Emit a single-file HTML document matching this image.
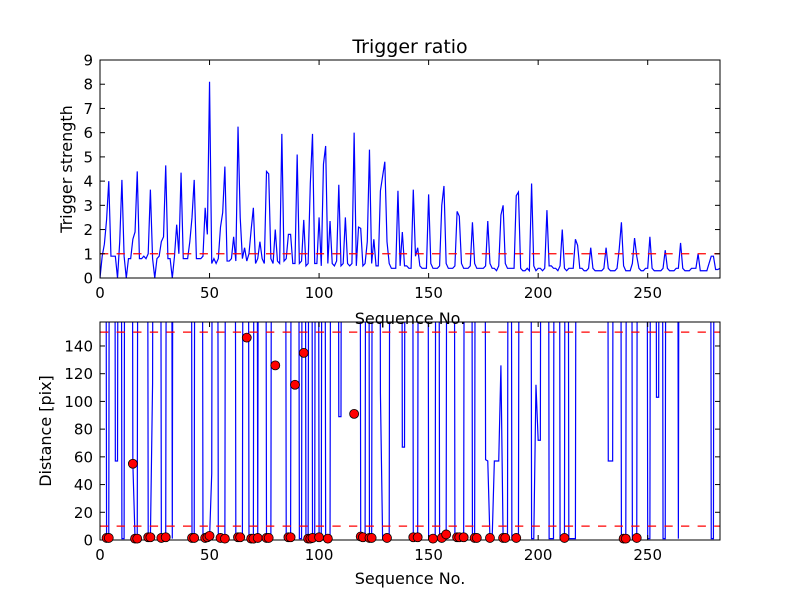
<!DOCTYPE html>
<html><head><meta charset="utf-8"><style>
html,body{margin:0;padding:0;background:#fff;}
svg{display:block;font-family:"DejaVu Sans","Liberation Sans",sans-serif;}
</style></head><body>
<svg id="chart" width="800" height="600" viewBox="0 0 800 600" xmlns="http://www.w3.org/2000/svg">
<rect width="800" height="600" fill="#fff"/>
<text x="410" y="53" font-size="19" text-anchor="middle">Trigger ratio</text>
<g id="top"></g>
<g id="bot"></g>
<text x="410" y="324" font-size="16" text-anchor="middle">Sequence No.</text>
<text transform="translate(72,169) rotate(-90)" font-size="16" text-anchor="middle">Trigger strength</text>
<text x="410" y="584" font-size="16" text-anchor="middle">Sequence No.</text>
<text transform="translate(51,431) rotate(-90)" font-size="16" text-anchor="middle">Distance [pix]</text>
</svg>
<script>
const strength = [0.0,0.9,1.4,2.4,4.0,0.9,0.9,0.9,0.0,1.5,4.05,0.9,0.0,0.8,0.8,1.6,1.9,4.4,0.8,0.8,0.9,0.8,1.0,3.65,0.8,0.0,0.8,0.9,1.5,1.7,4.65,0.8,0.8,0.0,0.9,2.2,1.0,4.35,0.8,0.8,0.8,1.5,2.5,4.05,0.8,0.8,0.8,0.9,2.9,1.8,8.1,0.6,0.8,0.6,0.8,2.1,2.7,4.6,0.7,0.7,0.8,1.7,0.7,6.25,2.5,0.8,1.25,0.7,1.0,2.0,2.9,0.6,0.8,1.5,0.8,0.6,4.4,4.3,0.8,0.6,2.0,0.7,0.6,5.95,0.7,0.8,1.8,1.8,0.6,0.6,5.1,0.6,0.7,2.4,0.5,0.6,3.9,5.95,0.6,0.6,2.5,0.5,4.7,5.45,0.6,2.35,0.6,0.5,0.7,3.85,0.5,0.6,2.5,0.6,0.5,0.6,6.0,0.5,2.1,2.05,0.5,0.6,1.5,5.3,0.6,1.6,0.5,0.5,3.6,4.2,4.8,1.5,0.6,0.4,0.4,0.4,3.6,0.5,1.9,0.5,0.5,0.4,0.4,3.65,0.9,1.25,0.5,0.4,0.4,0.4,3.45,0.6,0.4,0.4,0.4,0.5,3.0,3.8,0.6,0.4,0.4,0.4,0.5,2.75,2.55,0.6,0.4,0.4,0.4,0.5,2.3,0.6,0.4,0.4,0.4,0.4,0.5,2.35,0.6,0.4,0.4,0.3,0.5,2.6,3.0,0.6,0.4,0.4,0.4,0.4,3.4,3.55,0.4,0.3,0.3,0.4,0.3,3.9,0.5,0.3,0.4,0.4,0.3,0.4,2.8,0.5,0.5,0.4,0.4,0.3,0.5,2.0,0.4,0.3,0.4,0.4,0.4,1.6,1.35,0.4,0.4,0.3,0.3,0.4,1.25,0.4,0.3,0.3,0.3,0.3,0.4,1.25,0.4,0.3,0.3,0.3,0.4,1.2,2.3,0.5,0.3,0.3,0.3,0.6,1.65,0.9,0.4,0.3,0.3,0.4,0.4,1.7,0.4,0.3,0.3,0.3,0.3,0.4,1.15,0.4,0.3,0.3,0.3,0.4,0.4,1.45,0.4,0.3,0.3,0.3,0.4,0.4,0.4,1.0,0.3,0.3,0.3,0.3,0.6,0.9,0.9,0.35,0.35,0.4];
const H = 999;
const distance = [H,H,H,1,1,H,H,57,57,H,1,1,H,H,H,55,1,1,H,H,H,H,1,1,113,H,H,H,1,1,1,H,H,1,H,H,H,H,H,H,H,H,1,1,H,H,H,1,1,1,1,48,H,H,1,1,1,1,H,H,H,H,1,1,1,1,H,H,1,1,1,H,1,H,H,H,1,1,1,H,H,H,H,H,H,1,1,1,H,H,H,1,1,H,1,1,H,1,1,H,1,1,H,1,1,1,H,H,H,89,89,H,H,H,H,H,H,H,H,1,1,1,H,1,1,H,H,H,106,1,1,1,1,H,H,H,H,H,67,67,H,H,H,1,1,1,H,H,H,H,1,1,1,1,H,1,1,1,1,H,H,H,1,1,1,1,1,H,H,H,1,1,H,H,H,H,58,57,1,1,57,57,57,126,1,1,1,H,1,1,1,1,H,H,H,H,H,1,1,112,72,72,H,H,H,1,1,1,H,H,1,1,1,H,1,1,1,1,H,H,H,H,H,H,H,H,H,H,H,H,H,H,57,57,57,H,H,H,1,1,1,H,H,1,1,1,H,H,H,H,1,1,H,H,103,103,H,1,1,H,H,H,H,H,1,H,H,H,H,H,H,H,H,H,H,H,H,H,H,1,1,H,H,H];
const dotIdx = [3,4,15,16,17,22,23,28,30,42,43,48,49,50,55,57,63,64,67,69,70,72,76,77,80,86,87,89,93,95,96,97,100,104,116,119,120,123,124,131,143,145,152,156,158,163,164,166,171,172,178,184,185,190,212,239,240,245];
const dotVal = [1.5,1.5,55,1,1,2,2,1.5,2,1.5,1.5,1.5,2,3,1.5,1,2,2,146,1,1,1.5,1.5,1.5,126,2,2,112,135,1,1,1.5,2,1,91,2.5,2,1.5,1.5,1.5,2,2,1,1.5,4,2,2,2,1.5,1.5,1.5,1.5,1.5,1.5,1.5,1,1,1.5];
const xTicks = [0,50,100,150,200,250];
const topYTicks = [0,1,2,3,4,5,6,7,8,9];
const botYTicks = [0,20,40,60,80,100,120,140];
const topThresh = [1];
const botThresh = [10,150];

const NS='http://www.w3.org/2000/svg';
const L=100,R=720,XMAX=283;
const X=v=>L+v*(R-L)/XMAX;
function mk(tag,attrs,parent){const e=document.createElementNS(NS,tag);for(const k in attrs)e.setAttribute(k,attrs[k]);parent.appendChild(e);return e;}

function panel(g,T,B,ymax,yTicks,ys,thr,prefix){
  const Y=v=>B-v*(B-T)/ymax;
  const cid='clip-'+prefix;
  const cp=mk('clipPath',{id:cid},g);
  mk('rect',{x:L,y:T,width:R-L,height:B-T},cp);
  const d=ys.map((v,i)=>(i?'L':'M')+X(i).toFixed(2)+','+Y(v).toFixed(2)).join(' ');
  const line=mk('path',{d:d,fill:'none',stroke:'#0000ff','stroke-width':1.2,'clip-path':'url(#'+cid+')'},g);
  
  
  thr.forEach(t=>{
    const h=mk('line',{x1:L,x2:R,y1:Y(t),y2:Y(t),stroke:'#ff0000','stroke-width':1.2,'stroke-dasharray':'8.3,8.3'},g);
    
    
  });
  const fr=mk('rect',{x:L,y:T,width:R-L,height:B-T,fill:'none',stroke:'#000','stroke-width':1},g);
  
  
  xTicks.forEach(t=>{
    const x=X(t);
    mk('line',{x1:x,x2:x,y1:B,y2:B-5,stroke:'#000'},g);
    mk('line',{x1:x,x2:x,y1:T,y2:T+5,stroke:'#000'},g);
    const tx=mk('text',{x:x,y:B+20,'font-size':15,'text-anchor':'middle'},g);
    tx.textContent=t;
    
    
  });
  yTicks.forEach(t=>{
    const y=Y(t);
    mk('line',{x1:L,x2:L+5,y1:y,y2:y,stroke:'#000'},g);
    mk('line',{x1:R,x2:R-5,y1:y,y2:y,stroke:'#000'},g);
    const tx=mk('text',{x:L-7,y:y+5.5,'font-size':15,'text-anchor':'end'},g);
    tx.textContent=t;
    
    
  });
  return Y;
}
panel(document.getElementById('top'),60,278,9,topYTicks,strength,topThresh,'trigger');
const Yb=panel(document.getElementById('bot'),322,540,157.3,botYTicks,distance,botThresh,'distance');
const bg=document.getElementById('bot');
dotIdx.forEach((ix,k)=>{
  const c=mk('circle',{cx:X(ix),cy:Yb(dotVal[k]),r:4.5,fill:'#ff0000',stroke:'#000','stroke-width':0.8},bg);
  
  
});
</script>
</body></html>
